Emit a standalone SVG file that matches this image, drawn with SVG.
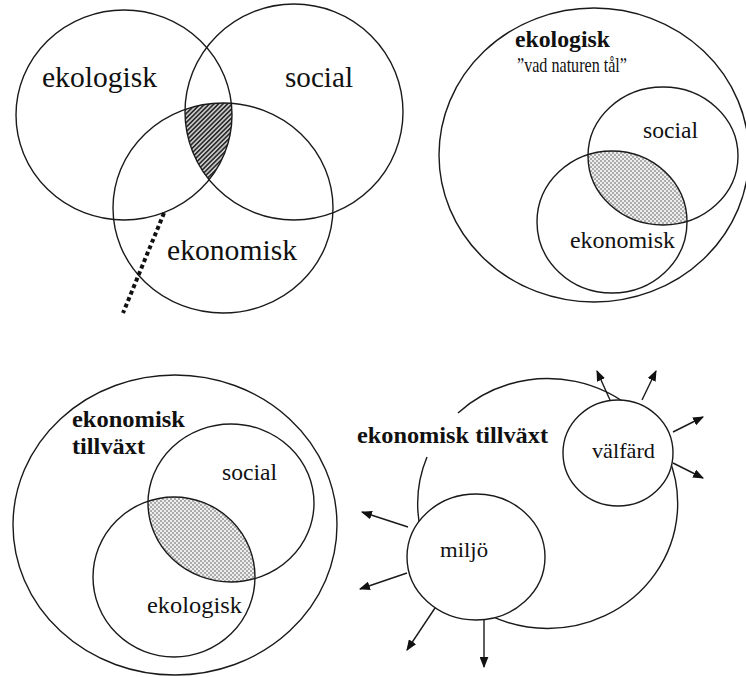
<svg xmlns="http://www.w3.org/2000/svg" width="746" height="677" viewBox="0 0 746 677">
<style>
.c{fill:none;stroke:#1a1a1a;stroke-width:1.4}
.w{fill:#fff;stroke:#1a1a1a;stroke-width:1.4}
.t{fill:#111}
.b{font-weight:bold}
.a{stroke:#1a1a1a;stroke-width:1.4;fill:none;marker-end:url(#ah)}
</style>
<defs>
<marker id="ah" viewBox="0 0 10 8" refX="9" refY="4" markerWidth="11" markerHeight="9" markerUnits="userSpaceOnUse" orient="auto">
<path d="M0,0 L10,4 L0,8 Z" fill="#111"/>
</marker>
<pattern id="hatch" patternUnits="userSpaceOnUse" width="3.2" height="3.2" patternTransform="rotate(-45)">
<rect width="3.2" height="3.2" fill="#c8c8c8"/>
<rect width="3.2" height="1.5" fill="#222"/>
</pattern>
<pattern id="dots" patternUnits="userSpaceOnUse" width="4" height="4">
<rect width="4" height="4" fill="#eee"/>
<circle cx="1" cy="1" r="0.8" fill="#555"/>
<circle cx="3" cy="3" r="0.8" fill="#555"/>
</pattern>
<clipPath id="tlA"><ellipse cx="124" cy="115" rx="108" ry="105"/></clipPath>
<clipPath id="tlB"><ellipse cx="294" cy="112" rx="109" ry="108"/></clipPath>
<clipPath id="tlC"><ellipse cx="223" cy="208" rx="110" ry="105"/></clipPath>
<clipPath id="trS"><ellipse cx="663" cy="156" rx="75" ry="69"/></clipPath>
<clipPath id="trE"><ellipse cx="612" cy="222" rx="75" ry="71"/></clipPath>
<clipPath id="blS"><ellipse cx="231" cy="503" rx="83" ry="79"/></clipPath>
<clipPath id="blE"><ellipse cx="174" cy="577" rx="81" ry="80"/></clipPath>
</defs>
<g font-family="'Liberation Serif', 'Times New Roman', serif">
<!-- Top-left: three overlapping circles -->
<g id="top-left">
<g clip-path="url(#tlA)"><g clip-path="url(#tlB)"><rect x="100" y="90" width="200" height="120" fill="url(#hatch)" clip-path="url(#tlC)"/></g></g>
<g id="tl-ekologisk"><ellipse class="c" cx="124" cy="115" rx="108" ry="105"/><text class="t" font-family="Liberation Serif, serif" x="42" y="87" font-size="30" textLength="115" lengthAdjust="spacingAndGlyphs">ekologisk</text></g>
<g id="tl-social"><ellipse class="c" cx="294" cy="112" rx="109" ry="108"/><text class="t" font-family="Liberation Serif, serif" x="285" y="87" font-size="30" textLength="68" lengthAdjust="spacingAndGlyphs">social</text></g>
<g id="tl-ekonomisk"><ellipse class="c" cx="223" cy="208" rx="110" ry="105"/><text class="t" font-family="Liberation Serif, serif" x="167" y="260" font-size="30" textLength="130" lengthAdjust="spacingAndGlyphs">ekonomisk</text></g>
<line x1="164" y1="213" x2="123" y2="313" stroke="#111" stroke-width="4" stroke-dasharray="4 3"/>
</g>

<!-- Top-right -->
<g id="top-right">
<g id="tr-ekologisk"><ellipse class="c" cx="594" cy="155" rx="155" ry="147"/>
<text class="t b" font-family="Liberation Serif, serif" x="515" y="47" font-size="23" textLength="95" lengthAdjust="spacingAndGlyphs">ekologisk</text>
<text class="t" font-family="Liberation Serif, serif" x="517" y="72" font-size="22" textLength="110" lengthAdjust="spacingAndGlyphs">”vad naturen tål”</text></g>
<g clip-path="url(#trS)"><rect x="560" y="130" width="140" height="110" fill="url(#dots)" clip-path="url(#trE)"/></g>
<g id="tr-social"><ellipse class="c" cx="663" cy="156" rx="75" ry="69"/><text class="t" font-family="Liberation Serif, serif" x="643" y="138" font-size="23" textLength="55" lengthAdjust="spacingAndGlyphs">social</text></g>
<g id="tr-ekonomisk"><ellipse class="c" cx="612" cy="222" rx="75" ry="71"/><text class="t" font-family="Liberation Serif, serif" x="570" y="248" font-size="24" textLength="105" lengthAdjust="spacingAndGlyphs">ekonomisk</text></g>
</g>

<!-- Bottom-left -->
<g id="bottom-left">
<g id="bl-tillvaxt"><ellipse class="c" cx="175" cy="525" rx="162" ry="150"/>
<text class="t b" font-family="Liberation Serif, serif" x="72" y="427" font-size="24" textLength="113" lengthAdjust="spacingAndGlyphs">ekonomisk</text>
<text class="t b" font-family="Liberation Serif, serif" x="72" y="454" font-size="24" textLength="73" lengthAdjust="spacingAndGlyphs">tillväxt</text></g>
<g clip-path="url(#blS)"><rect x="130" y="480" width="140" height="110" fill="url(#dots)" clip-path="url(#blE)"/></g>
<g id="bl-social"><ellipse class="c" cx="231" cy="503" rx="83" ry="79"/><text class="t" font-family="Liberation Serif, serif" x="222" y="480" font-size="23" textLength="55" lengthAdjust="spacingAndGlyphs">social</text></g>
<g id="bl-ekologisk"><ellipse class="c" cx="174" cy="577" rx="81" ry="80"/><text class="t" font-family="Liberation Serif, serif" x="147" y="613" font-size="24" textLength="95" lengthAdjust="spacingAndGlyphs">ekologisk</text></g>
</g>

<!-- Bottom-right -->
<g id="bottom-right">
<g id="br-tillvaxt"><path class="c" d="M458,413 A130,125 0 1 1 427,457"/>
<text class="t b" font-family="Liberation Serif, serif" x="357" y="443" font-size="24" textLength="191" lengthAdjust="spacingAndGlyphs">ekonomisk tillväxt</text></g>
<g id="connectors">
<line class="a" x1="610" y1="400" x2="597" y2="371"/>
<line class="a" x1="642" y1="400" x2="656" y2="371"/>
<line class="a" x1="673" y1="432" x2="703" y2="417"/>
<line class="a" x1="673" y1="463" x2="703" y2="478"/>
<line class="a" x1="408" y1="527" x2="362" y2="512"/>
<line class="a" x1="407" y1="573" x2="360" y2="589"/>
<line class="a" x1="437" y1="605" x2="407" y2="650"/>
<line class="a" x1="484" y1="620" x2="484" y2="667"/>
</g>
<g id="br-valfard"><ellipse class="w" cx="618" cy="453" rx="55" ry="53"/><text class="t" font-family="Liberation Serif, serif" x="592" y="458" font-size="22" textLength="63" lengthAdjust="spacingAndGlyphs">välfärd</text></g>
<g id="br-miljo"><ellipse class="w" cx="476" cy="557" rx="69" ry="63"/><text class="t" font-family="Liberation Serif, serif" x="440" y="557" font-size="22" textLength="48" lengthAdjust="spacingAndGlyphs">miljö</text></g>
</g>
</g>
</svg>
